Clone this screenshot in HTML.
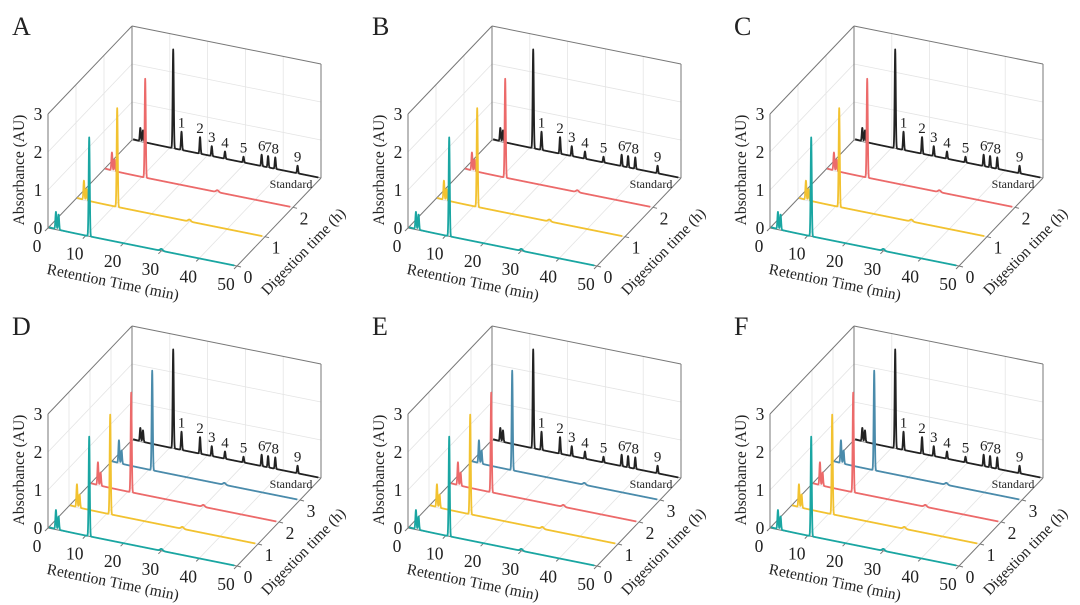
<!DOCTYPE html>
<html><head><meta charset="utf-8">
<style>
html,body{margin:0;padding:0;background:#fff;}
svg{display:block;}
text{font-family:"Liberation Serif",serif;fill:#222;}
</style></head>
<body>
<svg id="fig" width="1080" height="605" viewBox="0 0 1080 605" xmlns="http://www.w3.org/2000/svg"></svg>
<script>
// ---- data ----
const panelLetters = ["A","B","C","D","E","F"];
const panelOffsetsX = [0,360,722,0,360,722];
const panelOffsetsY = [0,0,0,300,300,300];
const panelTraceCounts = [3,3,3,4,4,4];
const xTicks = [0,10,20,30,40,50];
const zTicks = [0,1,2,3];
const traceColors3 = ["#1aa6a2","#f2c230","#ec6a6a"];
const traceColors4 = ["#1aa6a2","#f2c230","#ec6a6a","#4a8bab"];
// standard peaks (retention time min, height AU)
const stdPeakTimes = [2.2,2.9,10.9,13.1,18.0,21.1,24.6,29.5,34.3,36.0,37.9,43.8];
const stdPeakHeights = [0.35,0.3,2.6,0.48,0.44,0.26,0.19,0.15,0.3,0.3,0.3,0.2];
const stdLabels = ["","","","1","2","3","4","5","6","7","8","9"];
// sample traces: small early peaks, main peak, small bump
const samplePeakTimes = [2.1,2.8,10.9,30.0];
const sampleHeightsABC = [[0.45,0.4,2.6,0.05],[0.5,0.3,2.6,0.05],[0.47,0.3,2.6,0.05]];
const sampleHeightsDEF = [[0.5,0.35,2.62,0.05],[0.6,0.35,2.62,0.05],[0.6,0.35,2.62,0.05],[0.6,0.35,2.62,0.05]];

const svg = document.getElementById('fig');
const NS = "http://www.w3.org/2000/svg";
function mk(tag, attrs, parent){
  const e = document.createElementNS(NS, tag);
  for (const k in attrs) e.setAttribute(k, attrs[k]);
  parent.appendChild(e);
  return e;
}

function drawPanel(p){
  const ox = panelOffsetsX[p], oy = panelOffsetsY[p], n = panelTraceCounts[p];
  const g = mk('g', {}, svg);
  
  
  const O = [48+ox, 228+oy];
  const depthMax = n;
  function P(x, d, z){
    return [O[0] + x/50*189 + d/depthMax*84, O[1] + x/50*38 - d/depthMax*88 - z*38];
  }
  function line(a, b, stroke, w, name){
    const l = mk('line', {x1:a[0].toFixed(1), y1:a[1].toFixed(1), x2:b[0].toFixed(1), y2:b[1].toFixed(1), stroke:stroke, 'stroke-width':w}, g);
    
    
    return l;
  }
  const grid = "#e4e4e4";
  for (const t of xTicks.slice(1,-1)) {
    line(P(t,depthMax,0), P(t,depthMax,3), grid, 0.8, 'back-grid-x');
    line(P(t,0,0), P(t,depthMax,0), grid, 0.8, 'floor-grid-x');
  }
  for (const z of [1,2]) {
    line(P(0,depthMax,z), P(50,depthMax,z), grid, 0.8, 'back-grid-z');
    line(P(0,0,z), P(0,depthMax,z), grid, 0.8, 'side-grid-z');
  }
  for (let d=1; d<depthMax; d++) {
    line(P(0,d,0), P(0,d,3), grid, 0.8, 'side-grid-d');
    line(P(0,d,0), P(50,d,0), grid, 0.8, 'floor-grid-d');
  }
  const edge = "#777";
  line(P(0,depthMax,0), P(0,depthMax,3), edge, 1, 'box-edge');
  line(P(0,depthMax,3), P(50,depthMax,3), edge, 1, 'box-edge');
  line(P(50,depthMax,3), P(50,depthMax,0), edge, 1, 'box-edge');
  line(P(0,0,3), P(0,depthMax,3), edge, 1, 'box-edge');
  line(P(0,0,0), P(0,0,3), edge, 1, 'z-axis');
  line(P(0,0,0), P(50,0,0), edge, 1, 'x-axis');
  line(P(50,0,0), P(50,depthMax,0), edge, 1, 'depth-axis');
  line(P(0,0,0), P(0,depthMax,0), edge, 1, 'box-edge');
  line(P(0,depthMax,0), P(50,depthMax,0), edge, 0.8, 'box-edge');

  for (const t of xTicks) {
    const a = P(t,0,0);
    line(a, [a[0]-3, a[1]+3], edge, 1, 'x-tick');
    const tx = mk('text', {x:(a[0]-11).toFixed(1), y:(a[1]+24).toFixed(1), 'font-size':17.5, 'text-anchor':'middle'}, g);
    
    
    tx.textContent = t;
  }
  for (const z of zTicks) {
    const a = P(0,0,z);
    const tx = mk('text', {x:(a[0]-10).toFixed(1), y:(a[1]+6).toFixed(1), 'font-size':17.5, 'text-anchor':'middle'}, g);
    
    
    tx.textContent = z;
  }
  for (let d=0; d<depthMax; d++) {
    const a = P(50,d,0);
    line(a, [a[0]+4, a[1]+1], edge, 1, 'depth-tick');
    const tx = mk('text', {x:(a[0]+11).toFixed(1), y:(a[1]+17).toFixed(1), 'font-size':17.5, 'text-anchor':'middle'}, g);
    
    
    tx.textContent = d;
  }
  let t = mk('text', {x:0, y:0, 'font-size':15.5, 'text-anchor':'middle', transform:`translate(${24+ox},${170+oy}) rotate(-90)`}, g);
  
  
  t.textContent = 'Absorbance (AU)';
  t = mk('text', {x:0, y:0, 'font-size':15.5, 'text-anchor':'middle', transform:`translate(${112+ox},${287+oy}) rotate(11.4)`}, g);
  
  
  t.textContent = 'Retention Time (min)';
  t = mk('text', {x:0, y:0, 'font-size':15.5, 'text-anchor':'middle', transform:`translate(${307+ox},${255+oy}) rotate(-46)`}, g);
  
  
  t.textContent = 'Digestion time (h)';
  t = mk('text', {x:12+ox, y:35+oy, 'font-size':26}, g);
  
  
  t.textContent = panelLetters[p];

  function signal(x, times, heights, sig){
    let y = 0.03*Math.exp(-x/3);
    for (let i=0;i<times.length;i++){
      const s = heights[i] < 0.1 ? 0.35 : sig;
      y += heights[i]*Math.exp(-0.5*Math.pow((x-times[i])/s,2));
    }
    return y;
  }
  function tracePath(d, times, heights, color, name){
    let pts = [];
    for (let x=0.3; x<=49.3; x+=0.04){
      const q = P(x, d, signal(x, times, heights, 0.14));
      pts.push(q[0].toFixed(2)+','+q[1].toFixed(2));
    }
    const pl = mk('polyline', {points:pts.join(' '), fill:'none', stroke:color, 'stroke-width':1.8, 'stroke-linejoin':'round'}, g);
    
    
  }
  tracePath(depthMax, stdPeakTimes, stdPeakHeights, '#222', 'standard-trace');
  for (let i=0;i<stdLabels.length;i++){
    if (!stdLabels[i]) continue;
    const q = P(stdPeakTimes[i], depthMax, stdPeakHeights[i]);
    const lx = mk('text', {x:q[0].toFixed(1), y:(q[1]-4).toFixed(1), 'font-size':15, 'text-anchor':'middle'}, g);
    
    
    lx.textContent = stdLabels[i];
  }
  const sl = P(50, depthMax, 0);
  t = mk('text', {x:(sl[0]-30).toFixed(1), y:(sl[1]+10).toFixed(1), 'font-size':12, 'text-anchor':'middle'}, g);
  
  
  t.textContent = 'Standard';
  const hs = n===3 ? sampleHeightsABC : sampleHeightsDEF;
  const cols = n===3 ? traceColors3 : traceColors4;
  for (let d=n-1; d>=0; d--){
    tracePath(d, samplePeakTimes, hs[d], cols[d], 'sample-trace-' + d + 'h');
  }
}
for (let p=0;p<6;p++) drawPanel(p);
</script>
</body></html>
